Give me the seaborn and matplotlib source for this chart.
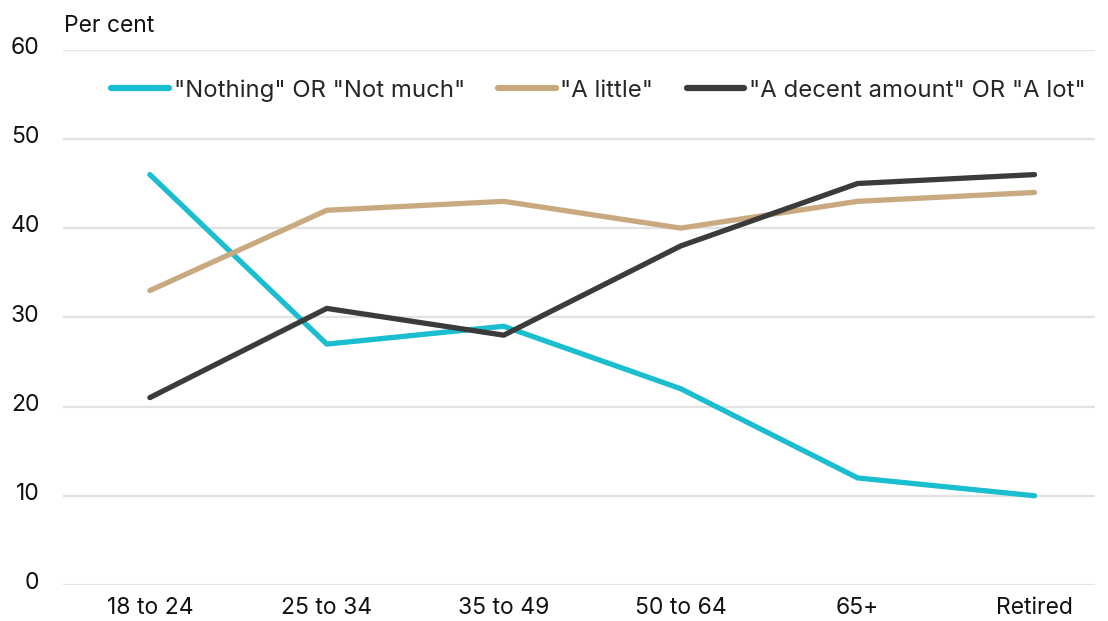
import matplotlib
matplotlib.use("Agg")
import matplotlib.pyplot as plt
import matplotlib.transforms as mtransforms
import pandas as pd
import seaborn as sns

# Survey results by age group (per cent)
age_groups = ["18 to 24", "25 to 34", "35 to 49", "50 to 64", "65+", "Retired"]
nothing_or_not_much = [46, 27, 29, 22, 12, 10]
a_little = [33, 42, 43, 40, 43, 44]
decent_or_lot = [21, 31, 28, 38, 45, 46]

series_names = ['"Nothing" OR "Not much"', '"A little"', '"A decent amount" OR "A lot"']
series_values = [nothing_or_not_much, a_little, decent_or_lot]
colors = ["#1bbecf", "#c9a97f", "#3b3b3b"]

rows = []
for name, vals in zip(series_names, series_values):
    for i, (g, v) in enumerate(zip(age_groups, vals)):
        rows.append({"pos": i, "group": g, "series": name, "value": v})
df = pd.DataFrame(rows)

sns.set_theme(style="white")
plt.rcParams["font.family"] = ["Inter", "DejaVu Sans"]

fig = plt.figure(figsize=(11.08, 6.21), dpi=100)
ax = fig.add_axes([0.057, 0.058, 0.931, 0.862])

sns.lineplot(data=df, x="pos", y="value", hue="series", hue_order=series_names,
             palette=colors, linewidth=3.8, ax=ax, legend=True,
             solid_capstyle="round")

ax.set_xlim(-0.49, 5.34)
ax.set_ylim(0, 60)
ax.set_yticks(range(0, 61, 10))
ax.set_xticks(range(len(age_groups)))
ax.set_xticklabels(age_groups)
ax.grid(axis="y", color="#e2e2e2", linewidth=1.6)
ax.set_axisbelow(True)
for s in ax.spines.values():
    s.set_visible(False)
ax.tick_params(axis="both", length=0, labelsize=16.5, colors="#111111")
ax.tick_params(axis="x", pad=9)
ax.tick_params(axis="y", pad=17)
# lift y tick labels slightly above their gridlines
offset = mtransforms.ScaledTranslation(0, 3 / 72, fig.dpi_scale_trans)
for lbl in ax.get_yticklabels():
    lbl.set_transform(lbl.get_transform() + offset)
ax.set_xlabel("")
ax.set_ylabel("")

fig.text(0.058, 0.958, "Per cent", fontsize=16.5, color="#111111", va="center", ha="left")

leg = ax.legend(loc="upper center", bbox_to_anchor=(0.519, 0.985), ncol=3, frameon=False,
                fontsize=17.2, handlelength=2.4, handletextpad=0.2, columnspacing=1.4)
for h in leg.get_lines():
    h.set_linewidth(4.5)
    h.set_solid_capstyle("round")

fig.savefig("out.png", dpi=100)
